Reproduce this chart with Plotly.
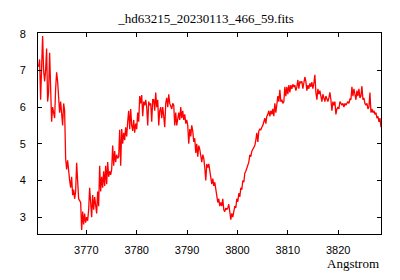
import numpy as np
import plotly.graph_objects as go

TITLE = "_hd63215_20230113_466_59.fits"
XLABEL = "Angstrom"
WL_START = 3760.52
WL_END = 3828.49

flux_a = [7.1, 7.3, 6.2, 7.2, 7.94, 7.0, 6.7, 7.0, 7.6, 6.15, 6.4, 7.48, 6.6, 5.6, 6.0, 5.85, 5.7, 6.5,
          6.95, 6.7, 6.2, 5.85, 6.15, 5.8, 5.5, 6.1, 5.9, 4.6, 4.3, 4.55, 4.2, 4.0, 3.8, 4.1, 3.6, 3.75,
          3.5, 3.7, 4.48, 3.8, 3.5, 3.45, 3.4, 2.65, 3.15, 2.8, 3.1, 2.85, 3.0, 2.9, 3.2, 3.8, 3.3, 3.0,
          3.6, 3.2, 3.55, 3.3]
flux_b = [3.1, 3.7, 3.3, 4.4, 3.7, 4.1, 3.8, 4.25, 3.85, 4.4, 3.9, 4.5, 4.1, 4.25, 4.15, 4.3, 4.95, 4.4,
          4.8, 4.5, 4.7, 4.6, 4.65, 5.38, 4.4, 5.4, 5.0, 5.3, 5.1, 5.45, 5.2, 5.6, 5.9, 5.4, 5.95, 5.5,
          5.35, 5.65, 5.3, 5.55, 5.4, 5.85, 5.6, 6.3, 6.1, 6.33, 5.75, 6.15, 6.05, 6.2, 6.0, 5.5, 6.15,
          6.05, 6.1, 5.6, 6.2]
flux_c = [6.2, 5.9, 6.4, 6.0, 6.2, 5.5, 5.9, 6.0, 5.7, 6.0, 5.75, 5.45, 6.1, 6.25, 6.0, 6.35, 6.1, 6.0,
          5.95, 6.1, 6.05, 5.5, 5.85, 5.5, 5.75, 5.85, 5.65, 6.0, 5.7, 5.9, 5.65, 5.8, 5.55, 5.65, 5.5,
          5.0, 5.4, 5.2, 5.5, 5.35, 5.05, 5.15, 4.75, 5.0, 4.65, 4.95, 4.85, 4.7, 4.5, 4.7, 4.6, 4.35,
          4.0, 4.45, 4.35, 4.45, 4.3, 4.1]
flux_d = [3.9, 4.05, 3.85, 3.95, 3.75, 3.6, 3.4, 3.5, 3.3, 3.4, 3.3, 3.5, 3.2, 3.15, 3.25, 3.2, 3.25,
          3.35, 3.15, 2.93, 3.1, 3.0, 3.15, 3.3, 3.25, 3.5, 3.42, 3.65, 3.55, 3.8, 3.75, 4.0, 3.95, 4.2,
          4.25, 4.35, 4.45, 4.5, 4.7, 4.65, 4.8, 4.85, 4.9, 4.95, 5.1, 5.3, 5.05, 5.35, 5.4, 5.38, 5.45,
          5.5, 5.6, 5.7, 5.55, 5.75, 5.8, 5.9]
flux_e = [5.75, 5.9, 5.8, 5.95, 5.75, 6.1, 5.85, 6.05, 6.3, 6.15, 6.47, 6.15, 6.2, 6.1, 6.15, 6.55, 6.3,
          6.55, 6.35, 6.6, 6.4, 6.6, 6.5, 6.62, 6.55, 6.6, 6.45, 6.55, 6.74, 6.5, 6.7, 6.65, 6.7, 6.5,
          6.62, 6.82, 6.7, 6.45, 6.6, 6.5, 6.65, 6.55, 6.68, 6.5, 6.65, 6.88, 6.4, 6.2, 6.5, 6.35, 6.45,
          6.3, 6.15, 6.35, 6.2, 6.15, 6.3, 6.2]
flux_f = [6.15, 6.25, 6.4, 6.2, 5.9, 6.15, 6.05, 6.15, 5.8, 5.95, 6.0, 5.95, 6.15, 6.1, 6.05, 6.1, 6.0,
          6.1, 6.05, 6.1, 6.15, 6.1, 6.22, 6.2, 6.55, 6.3, 6.5, 6.35, 6.2, 6.45, 6.3, 6.5, 6.25, 6.3,
          6.57, 6.2, 6.25, 6.1, 6.05, 6.1, 5.95, 6.0, 6.4, 5.85, 5.95, 5.85, 5.9, 5.8, 5.85, 5.7, 5.75,
          5.6, 5.7, 5.45]

flux = flux_a + flux_b + flux_c + flux_d + flux_e + flux_f
wavelength = np.linspace(WL_START, WL_END, len(flux))

X_TICKS = [3770, 3780, 3790, 3800, 3810, 3820]
Y_TICKS = [3, 4, 5, 6, 7, 8]

fig = go.Figure()
fig.add_trace(go.Scatter(x=wavelength, y=flux, mode="lines",
                         line=dict(color="#ff0000", width=1.3), showlegend=False,
                         hoverinfo="skip"))

tickfont = dict(family="Liberation Sans, Arial, sans-serif", size=11, color="black")
fig.update_layout(
    width=392, height=272,
    margin=dict(l=30, r=19, t=25, b=46, autoexpand=False),
    paper_bgcolor="white", plot_bgcolor="white",
    title=dict(text=TITLE, x=0.49, xref="paper", xanchor="center",
               y=1 - 10 / 272, yref="container", yanchor="middle",
               font=dict(family="Liberation Serif, Times New Roman, serif", size=13, color="black")),
    xaxis=dict(range=[3760.4, 3828.5], tickvals=X_TICKS, ticktext=[str(t) for t in X_TICKS],
               ticks="inside", ticklen=4, tickcolor="black", tickwidth=1,
               showline=True, linecolor="black", linewidth=1, mirror="ticks",
               showgrid=False, zeroline=False, tickfont=tickfont, ticklabelstandoff=6),
    yaxis=dict(range=[2.54, 8.02], tickvals=Y_TICKS, ticktext=[str(t) for t in Y_TICKS],
               ticks="inside", ticklen=4, tickcolor="black", tickwidth=1,
               showline=True, linecolor="black", linewidth=1, mirror="ticks",
               showgrid=False, zeroline=False, tickfont=tickfont, ticklabelstandoff=9),
    annotations=[dict(text=XLABEL, xref="paper", yref="paper", x=1.0, y=-0.145,
                      xanchor="right", yanchor="middle", showarrow=False,
                      font=dict(family="Liberation Serif, Times New Roman, serif", size=13, color="black"))],
)

fig.write_html("out.html")
